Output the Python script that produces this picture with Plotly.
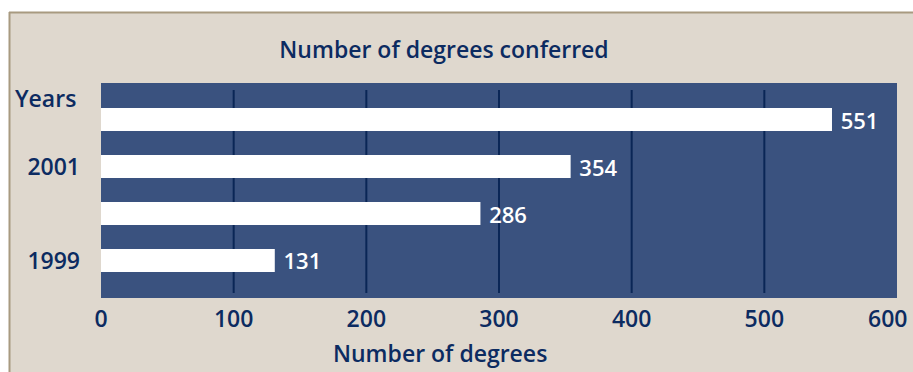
import plotly.graph_objects as go

years = [1999, 2000, 2001, 2002]
degrees = [131, 286, 354, 551]
year_ticks = [1999, 2001]
year_tick_labels = ["1999", "2001"]
x_ticks = [0, 100, 200, 300, 400, 500, 600]
grid_vals = [100, 200, 300, 400, 500]

title_text = "Number of degrees conferred"
x_title = "Number of degrees"
y_title = "Years"

NAVY = "#0c2b61"
PLOT_BG = "#3a527f"
PAPER_BG = "#dfd8ce"
FONT = "Open Sans"
WT = 600

W, H = 913, 372
L, R, T, B = 101, 16, 83, 74
pw, ph = W - L - R, H - T - B

def px_x(px):
    return (px - L) / pw

def px_y(py):
    return (H - B - py) / ph

fig = go.Figure(go.Bar(
    x=degrees, y=years, orientation="h",
    marker=dict(color="white", line=dict(width=0)),
    width=0.49,
    text=[str(v) for v in degrees],
    texttemplate=" %{text}",
    textposition="outside",
    constraintext="none",
    textfont=dict(color="white", size=22, family=FONT, weight=WT),
    cliponaxis=False,
))

shapes = []
for g in grid_vals:
    shapes.append(dict(type="line", xref="x", yref="paper", x0=g, x1=g,
                       y0=px_y(293), y1=px_y(90),
                       line=dict(color="#0a2656", width=2), layer="below"))
# frame border (white outside, brown line on left/top)
shapes.append(dict(type="rect", xref="paper", yref="paper",
                   x0=px_x(-5), x1=px_x(9), y0=px_y(380), y1=px_y(-5),
                   fillcolor="white", line=dict(width=0), layer="above"))
shapes.append(dict(type="rect", xref="paper", yref="paper",
                   x0=px_x(-5), x1=px_x(920), y0=px_y(12), y1=px_y(-5),
                   fillcolor="white", line=dict(width=0), layer="above"))
shapes.append(dict(type="line", xref="paper", yref="paper",
                   x0=px_x(9), x1=px_x(920), y0=px_y(12.5), y1=px_y(12.5),
                   line=dict(color="#a89a80", width=2), layer="above"))
shapes.append(dict(type="line", xref="paper", yref="paper",
                   x0=px_x(9.5), x1=px_x(9.5), y0=px_y(380), y1=px_y(12),
                   line=dict(color="#a89a80", width=2), layer="above"))

tick_font = dict(size=23, color=NAVY, family=FONT, weight=WT)

fig.update_layout(
    width=W, height=H,
    margin=dict(l=L, r=R, t=T, b=B),
    paper_bgcolor=PAPER_BG,
    plot_bgcolor=PLOT_BG,
    showlegend=False,
    font=dict(family=FONT, color=NAVY, weight=WT),
    title=dict(text=title_text, xref="container", yref="container",
               x=444 / W, y=1 - 50 / H, xanchor="center", yanchor="middle",
               font=dict(size=23, color=NAVY, family=FONT, weight=WT)),
    xaxis=dict(range=[0, 600], tickvals=x_ticks[:-1], showgrid=False, zeroline=False,
               showline=False, ticks="", tickfont=tick_font,
               ticklabelstandoff=5),
    yaxis=dict(range=[1998.2, 2002.78], tickvals=year_ticks, ticktext=year_tick_labels,
               showgrid=False, zeroline=False, showline=False, ticks="",
               tickfont=tick_font, ticklabelstandoff=20),
    shapes=shapes,
    annotations=[
        dict(text=str(x_ticks[-1]), xref="x", yref="paper", x=x_ticks[-1], y=px_y(318),
             xanchor="center", yanchor="middle", xshift=-10, showarrow=False,
             font=tick_font),
        dict(text=x_title, xref="paper", yref="paper", x=px_x(440), y=px_y(353),
             xanchor="center", yanchor="middle", showarrow=False,
             font=dict(size=23, color=NAVY, family=FONT, weight=WT)),
        dict(text=y_title, xref="paper", yref="paper", x=px_x(78), y=px_y(98),
             xanchor="right", yanchor="middle", showarrow=False,
             font=dict(size=23, color=NAVY, family=FONT, weight=WT)),
    ],
)

fig.write_html("out.html")
